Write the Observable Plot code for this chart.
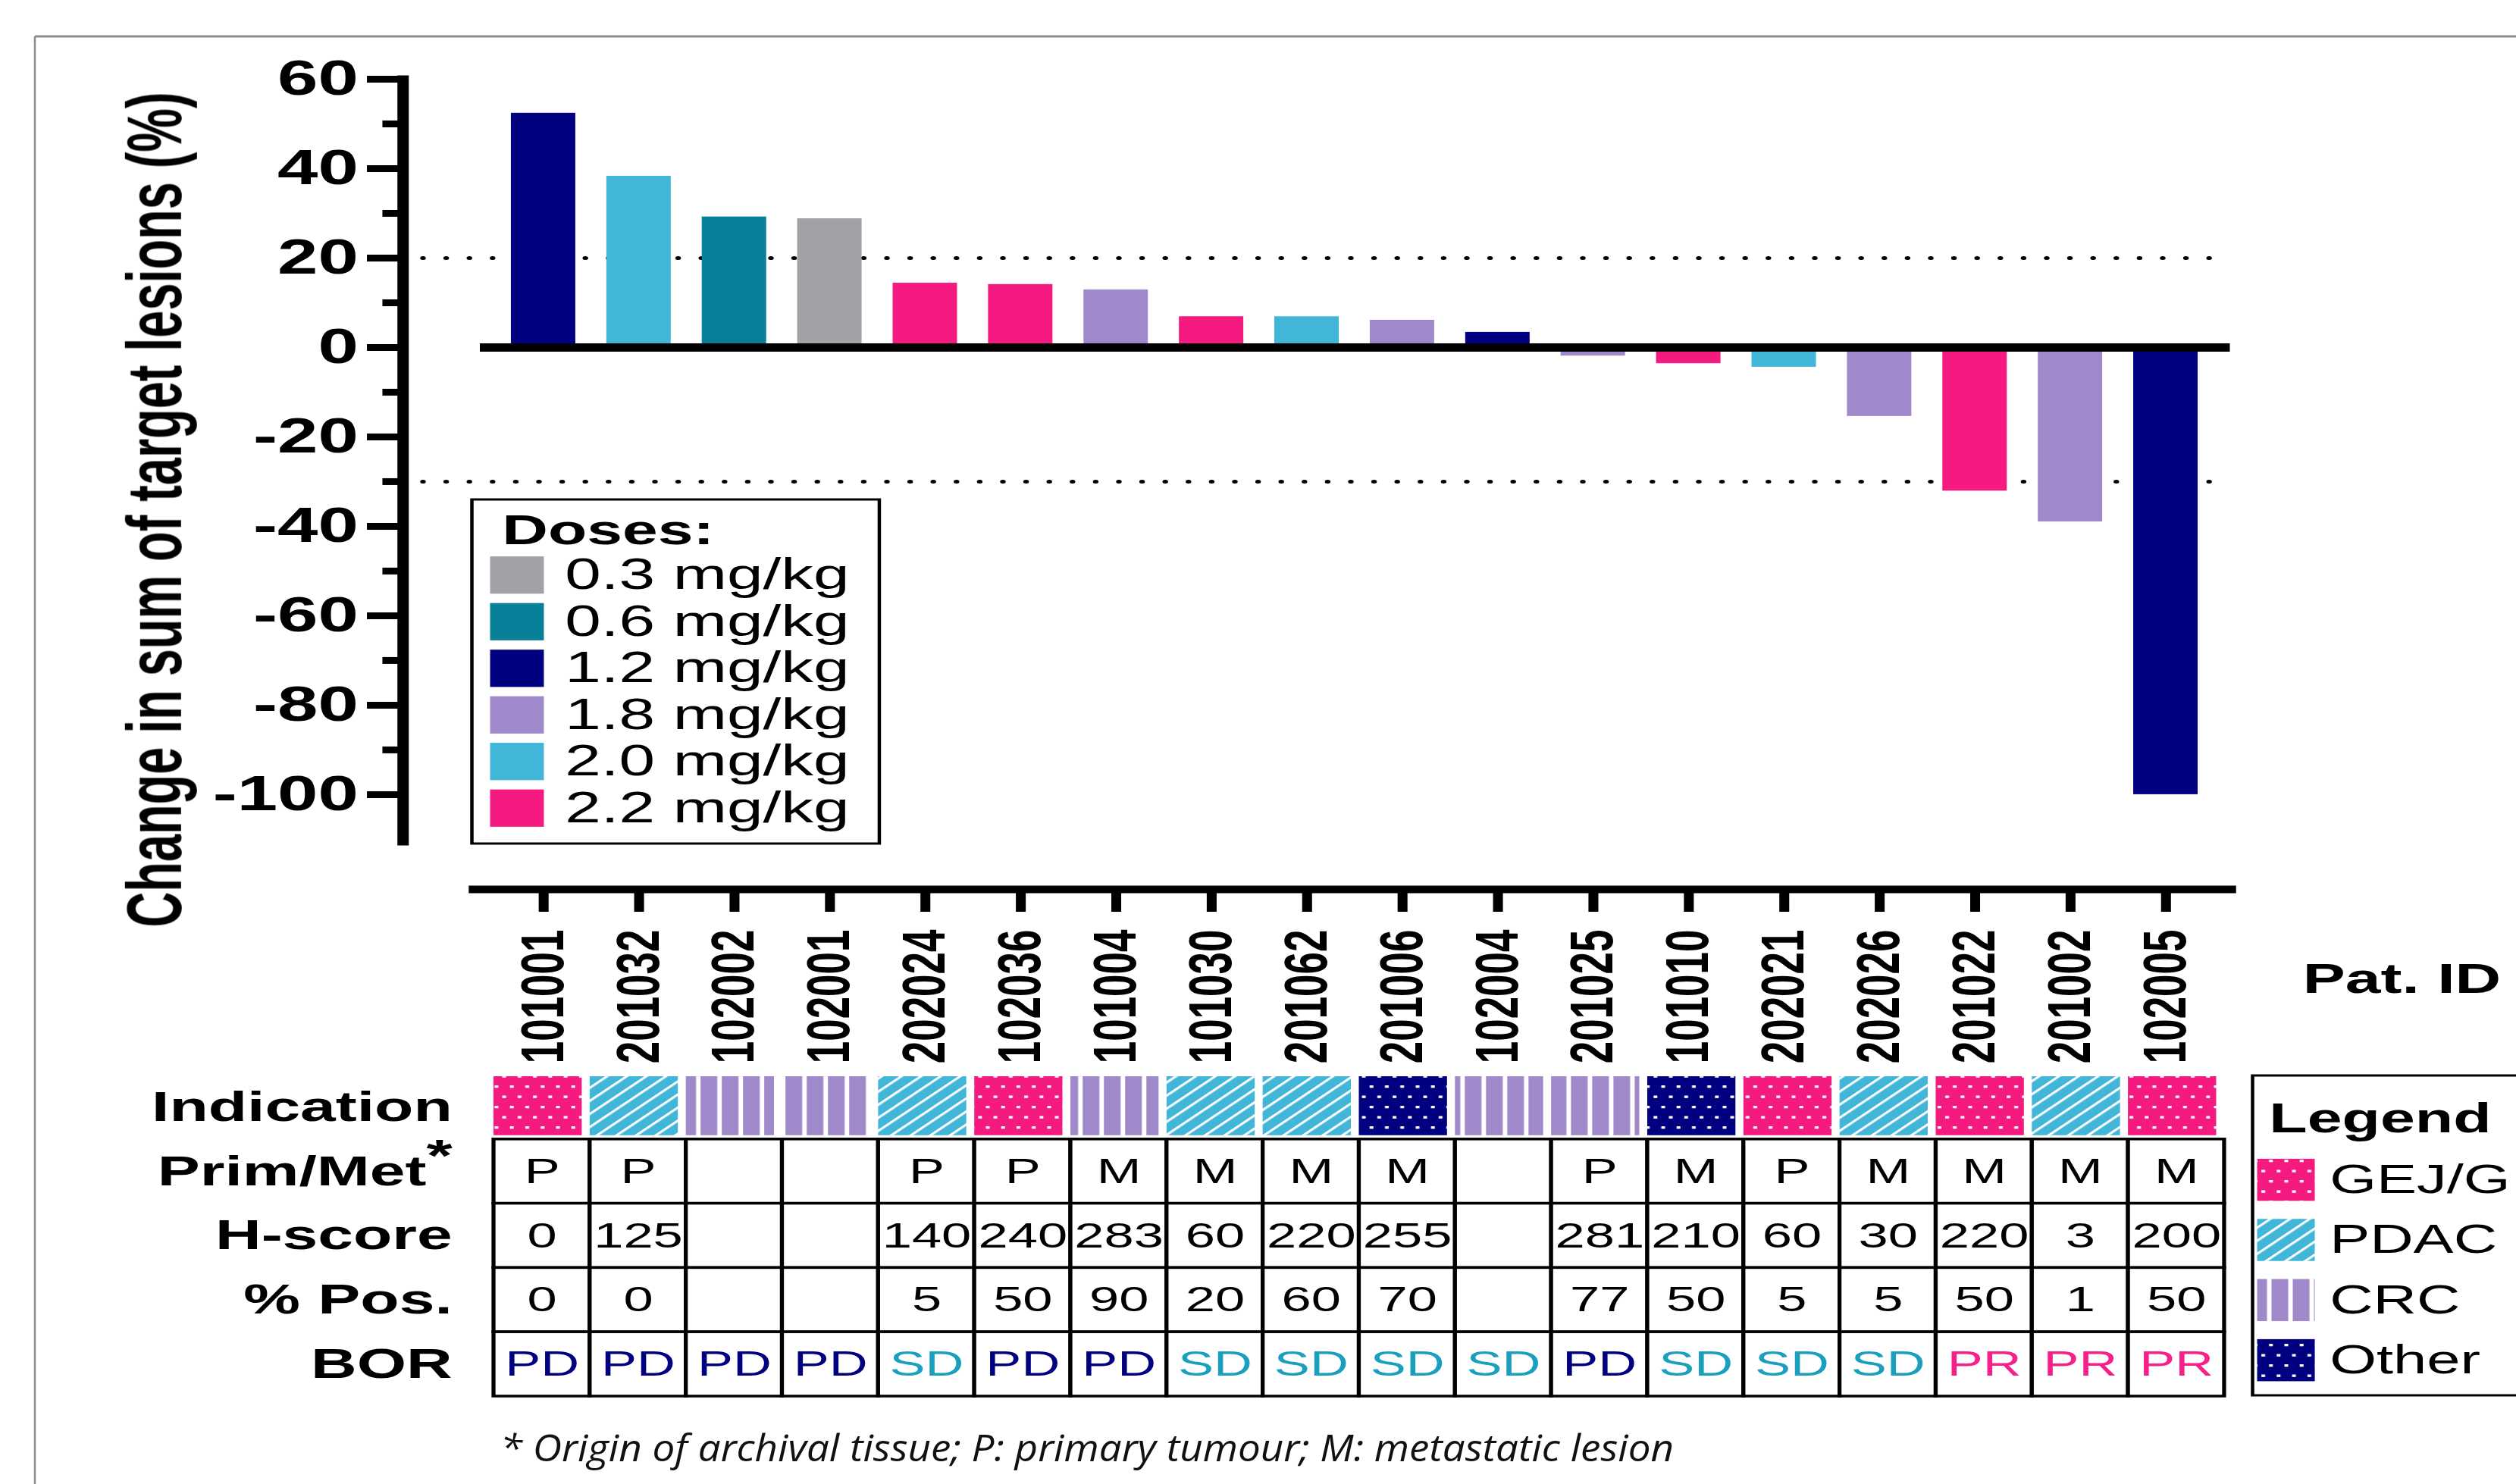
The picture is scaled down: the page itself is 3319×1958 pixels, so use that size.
<!DOCTYPE html>
<html><head><meta charset="utf-8">
<script src="https://cdn.jsdelivr.net/npm/d3@7"></script>
<script src="https://cdn.jsdelivr.net/npm/@observablehq/plot@0.6"></script>
<style>
html,body{margin:0;padding:0;background:#fff;}
#outer{position:relative;width:3319px;height:1958px;overflow:hidden;background:#fff;}
#stage{position:absolute;left:0;top:0;width:2212.67px;height:1958px;transform:scaleX(1.5);transform-origin:0 0;}
#stage > svg{position:absolute;max-width:none;overflow:visible;}
#overlay{position:absolute;left:0;top:0;pointer-events:none;}
</style></head><body>
<div id="outer">
<svg id="defs" width="0" height="0" style="position:absolute">
  <defs>
    <pattern id="pGEJ" patternUnits="userSpaceOnUse" width="13.5" height="27">
      <rect width="13.5" height="27" fill="#f41a80"/>
      <rect x="3" y="5" width="3.3" height="3.3" fill="#fff"/>
      <rect x="9.75" y="18.5" width="3.3" height="3.3" fill="#fff"/>
    </pattern>
    <pattern id="pOther" patternUnits="userSpaceOnUse" width="13.5" height="27">
      <rect width="13.5" height="27" fill="#000080"/>
      <rect x="3" y="5" width="3.3" height="3.3" fill="#fff"/>
      <rect x="9.75" y="18.5" width="3.3" height="3.3" fill="#fff"/>
    </pattern>
    <pattern id="pPDAC" patternUnits="userSpaceOnUse" width="12.2" height="12.2" patternTransform="rotate(45)">
      <rect width="12.2" height="12.2" fill="#41b6d9"/>
      <rect x="0" y="0" width="2.6" height="12.2" fill="#fff"/>
    </pattern>
    <pattern id="pCRC" patternUnits="userSpaceOnUse" width="18.67" height="10">
      <rect width="18.67" height="10" fill="#fff"/>
      <rect x="0" y="0" width="14.67" height="10" fill="#a089ca"/>
    </pattern>
  </defs>
</svg>
<div id="stage"></div>
<svg id="overlay" width="3319" height="1958"></svg>
</div>
<script>
// ---------------- data ----------------
const ids = ["101001","201032","102002","102001","202024","102036","101004","101030","201062","201006","102004","201025","101010","202021","202026","201022","201002","102005"];
const change = [52.4, 38.3, 29.2, 28.8, 14.4, 14.1, 12.9, 6.9, 6.9, 6.1, 3.4, -1.9, -3.6, -4.4, -15.4, -32.1, -39.0, -100];
const dose = ["1.2","2.0","0.6","0.3","2.2","2.2","1.8","2.2","2.0","1.8","1.2","1.8","2.2","2.0","1.8","2.2","1.8","1.2"];
const doseLabels = ["0.3","0.6","1.2","1.8","2.0","2.2"];
const doseColors = ["#a2a1a6","#087f99","#000080","#a089ca","#41b6d9","#f41a80"];
const indication = ["GEJ/G","PDAC","CRC","CRC","PDAC","GEJ/G","CRC","PDAC","PDAC","Other","CRC","CRC","Other","GEJ/G","PDAC","GEJ/G","PDAC","GEJ/G"];
const indicationNames = ["GEJ/G","PDAC","CRC","Other"];
const indicationFills = ["url(#pGEJ)","url(#pPDAC)","url(#pCRC)","url(#pOther)"];
const primMet = ["P","P","","","P","P","M","M","M","M","","P","M","P","M","M","M","M"];
const hScore = ["0","125","","","140","240","283","60","220","255","","281","210","60","30","220","3","200"];
const pctPos = ["0","0","","","5","50","90","20","60","70","","77","50","5","5","50","1","50"];
const bor = ["PD","PD","PD","PD","SD","PD","PD","SD","SD","SD","SD","PD","SD","SD","SD","PR","PR","PR"];
const borNames = ["PD","SD","PR"];
const borColors = ["#000080","#1a9fbf","#f7208a"];
const rowNames = ["Indication","Prim/Met*","H-score","% Pos.","BOR"];
const thresholds = [20, -30];
const majorTicks = [60,40,20,0,-20,-40,-60,-80,-100];
const minorTicks = [50,30,10,-10,-30,-50,-70,-90];
const yTitle = "Change in sum of target lesions (%)";
const footnote = "* Origin of archival tissue; P: primary tumour; M: metastatic lesion";

// ---------------- layout ----------------
const S = 1.5;                 // horizontal stretch of the stage
const W = 3319 / S;
const FONT = "'Liberation Sans', Arial, Helvetica, sans-serif";
const stage = document.getElementById("stage");
function place(el, left, top) { el.style.left = left + "px"; el.style.top = top + "px"; stage.appendChild(el); return el; }
const fmtTick = d => d < 0 ? "-" + (-d) : String(d);

// ---------------- waterfall ----------------
const bars = ids.map((id, i) => ({id, change: change[i], dose: dose[i]}));
const p1 = Plot.plot({
  width: W, height: 1418,
  marginLeft: 354, marginRight: W - 1961, marginTop: 104, marginBottom: 245,
  style: {fontFamily: FONT, fontWeight: "bold", background: "transparent", color: "black"},
  x: {type: "band", domain: ids, paddingInner: 0.325, paddingOuter: 0.7363, align: 0.771, round: false},
  y: {domain: [-121.2, 60]},
  color: {domain: doseLabels, range: doseColors},
  marks: [
    Plot.ruleY(thresholds, {strokeWidth: 5, strokeDasharray: "0 20.4", strokeLinecap: "round", insetLeft: 18}),
    Plot.barY(bars, {x: "id", y: "change", fill: "dose"}),
    Plot.ruleY([0], {strokeWidth: 11, insetLeft: 68}),
    Plot.frame({anchor: "left", strokeWidth: 10, insetBottom: 63}),
    Plot.frame({anchor: "bottom", strokeWidth: 10, insetLeft: 62.7}),
    Plot.axisY({ticks: majorTicks, tickSize: 31.3, tickPadding: 8, fontSize: 64, strokeWidth: 9, tickFormat: fmtTick, label: null}),
    Plot.axisY({ticks: minorTicks, tickSize: 17.7, tickFormat: () => "", strokeWidth: 9, label: null}),
    Plot.axisX({anchor: "bottom", tickSize: 30, tickPadding: 23, tickRotate: -90, fontSize: 53, strokeWidth: 8.7, label: null}),
    Plot.text([yTitle], {text: d => d, frameAnchor: "left", rotate: -90, textAnchor: "start", dx: -217.3, dy: 584.5, fontSize: 68}),
    Plot.text(["Pat. ID"], {text: d => d, frameAnchor: "bottom-right", textAnchor: "start", dx: 63.7, dy: 137, fontSize: 56})
  ]
});
place(p1, 0, 0);
d3.select(p1).selectAll("text").filter(function() { return this.textContent === yTitle; })
  .attr("text-anchor", "start").attr("textLength", 1102).attr("lengthAdjust", "spacingAndGlyphs");

// ---------------- table ----------------
const tableCells = [];
ids.forEach((id, i) => {
  tableCells.push({id, row: "Prim/Met*", text: primMet[i], bor: null});
  tableCells.push({id, row: "H-score", text: hScore[i], bor: null});
  tableCells.push({id, row: "% Pos.", text: pctPos[i], bor: null});
  tableCells.push({id, row: "BOR", text: bor[i], bor: bor[i]});
});
const indic = ids.map((id, i) => ({id, indication: indication[i]}));
const p2 = Plot.plot({
  width: W, height: 558,
  marginLeft: 434, marginRight: W - 1956, marginTop: 18, marginBottom: 116,
  style: {fontFamily: FONT, background: "transparent", color: "black"},
  x: {type: "band", domain: ids, padding: 0, round: false, axis: null},
  y: {type: "band", domain: rowNames, padding: 0, round: false},
  marks: [
    ...indicationNames.map((n, k) => Plot.cell(indic.filter(d => d.indication === n),
      {x: "id", y: () => "Indication", fill: indicationFills[k], insetTop: 2, insetBottom: 5, insetRight: 7})),
    Plot.cell(tableCells, {x: "id", y: "row", fill: "white", stroke: "black", strokeWidth: 3.5}),
    Plot.text(tableCells.filter(d => d.bor === null), {x: "id", y: "row", text: "text", fill: "black", fontSize: 47}),
    ...borNames.map((b, k) => Plot.text(tableCells.filter(d => d.bor === b),
      {x: "id", y: "row", text: "text", fill: borColors[k], fontSize: 47})),
    Plot.axisY({anchor: "left", tickSize: 0, tickPadding: 36.7, fontSize: 56, fontWeight: "bold", label: null})
  ]
});
place(p2, 0, 1400);
d3.select(p2).selectAll("text").filter(function() { return this.textContent === "Prim/Met*"; })
  .each(function() {
    const t = d3.select(this);
    t.text("Prim/Met");
    t.append("tspan").attr("dy", "-0.32em").attr("font-size", "1.05em").text("*");
  });
d3.select(p2).selectAll('g[aria-label="y-axis tick label"] text').attr("font-weight", "bold");

// ---------------- dose legend ----------------
const L1W = 361.3, L1H = 457;
const p3 = Plot.plot({
  width: L1W, height: L1H, marginLeft: 0, marginRight: 0, marginTop: 71, marginBottom: 17,
  style: {fontFamily: FONT, background: "transparent", color: "black"},
  y: {type: "band", domain: doseLabels, paddingInner: 0.2, paddingOuter: 0.1, round: false, axis: null},
  color: {domain: doseLabels, range: doseColors},
  marks: [
    Plot.frame({strokeWidth: 3, insetTop: -69.5, insetBottom: -15.5, insetLeft: 1.5, insetRight: 1.5}),
    Plot.cell(doseLabels, {y: d => d, fill: d => d, insetLeft: 18, insetRight: L1W - 65.3}),
    Plot.text(doseLabels, {y: d => d, text: d => d + " mg/kg", frameAnchor: "left", textAnchor: "start", dx: 83.3, fontSize: 57}),
    Plot.text(["Doses:"], {text: d => d, frameAnchor: "top-left", textAnchor: "start", lineAnchor: "bottom", dx: 28, dy: -10, fontSize: 56, fontWeight: "bold"})
  ]
});
place(p3, 620 / S, 657);

// ---------------- indication legend ----------------
const L2W = 260, L2H = 425;
const p4 = Plot.plot({
  width: L2W, height: L2H, marginLeft: 0, marginRight: 0, marginTop: 100, marginBottom: 7.7,
  style: {fontFamily: FONT, background: "transparent", color: "black"},
  y: {type: "band", domain: indicationNames, paddingInner: 0.3, paddingOuter: 0.15, round: false, axis: null},
  marks: [
    Plot.frame({strokeWidth: 3, insetTop: -98.5, insetBottom: -6.2, insetLeft: 1.5, insetRight: 1.5}),
    ...indicationNames.map((n, k) => Plot.cell([n], {y: d => d, fill: indicationFills[k], insetLeft: 6, insetRight: L2W - 56.7})),
    Plot.text(indicationNames, {y: d => d, text: d => d, frameAnchor: "left", textAnchor: "start", dx: 69.3, fontSize: 53}),
    Plot.text(["Legend"], {text: d => d, frameAnchor: "top-left", textAnchor: "start", lineAnchor: "bottom", dx: 16, dy: -24, fontSize: 55, fontWeight: "bold"})
  ]
});
place(p4, 2968 / S, 1417);

// ---------------- figure frame + footnote (not stretched) ----------------
const ov = d3.select("#overlay");
ov.append("line").attr("x1", 46).attr("x2", 3319).attr("y1", 48).attr("y2", 48).attr("stroke", "#8c8c8c").attr("stroke-width", 3);
ov.append("line").attr("x1", 46).attr("x2", 46).attr("y1", 48).attr("y2", 1958).attr("stroke", "#8c8c8c").attr("stroke-width", 2.5);
ov.append("text").attr("x", 660).attr("y", 1928)
  .attr("font-family", "'Open Sans', 'Noto Sans', sans-serif").attr("font-style", "italic").attr("font-size", 50)
  .attr("textLength", 1548).attr("lengthAdjust", "spacingAndGlyphs").attr("fill", "#111").text(footnote);
</script>
</body></html>
